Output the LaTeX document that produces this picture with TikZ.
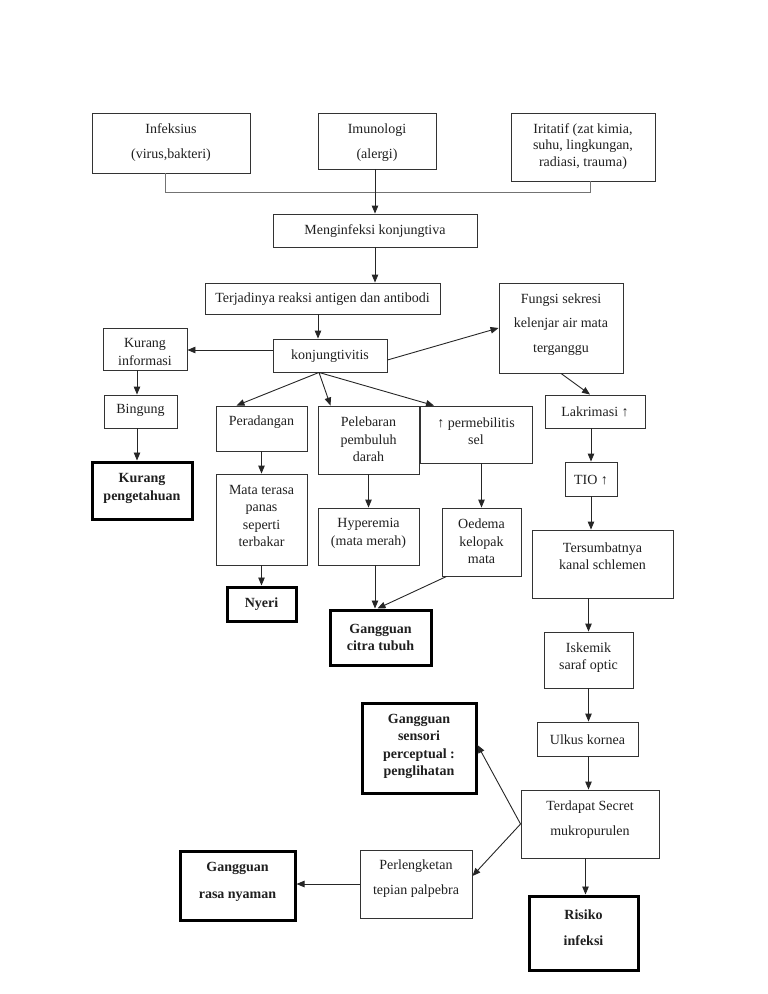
\documentclass[tikz,border=0pt]{standalone}
\usepackage{fontspec}
\setmainfont{Liberation Serif}
\usetikzlibrary{arrows.meta}
\tikzset{
  box/.style={draw=black!80, line width=0.9pt, inner sep=0pt},
  bbox/.style={draw=black, line width=3pt, inner sep=0pt},
  txt/.style={align=center, inner sep=0pt, yshift=-2.5pt, text=black!88, font=\fontsize{14}{17.5}\selectfont},
  arr/.style={draw=black!85, line width=0.9pt, -{Triangle[length=8pt,width=6.5pt]}},
  ln/.style={draw=black!55, line width=0.9pt}
}
\newcommand{\mkbox}[8]{%
  \node[#1, minimum width={#5-#3}, minimum height={#6-#4}] (#2) at ({(#3+#5)/2},{(#4+#6)/2}) {};
  \node[txt] (#2t) at ({(#3+#5)/2},#7) {#8};
}
\begin{document}
\begin{tikzpicture}[x=1pt,y=-1pt]
\useasboundingbox (0,0) rectangle (768,994);
% top row
\mkbox{box}{inf}{92}{113}{250}{173}{140}{Infeksius\\[8pt](virus,bakteri)}
\mkbox{box}{imu}{318}{113}{436}{169}{140}{Imunologi\\[8pt](alergi)}
\mkbox{box}{iri}{511}{113}{655}{181}{144}{Iritatif (zat kimia,\\[-1pt]suhu, lingkungan,\\[-1pt]radiasi, trauma)}
\mkbox{box}{meng}{273}{214}{477}{247}{229}{Menginfeksi konjungtiva}
\mkbox{box}{terj}{205}{283}{440}{314}{297}{Terjadinya reaksi antigen dan antibodi}
\mkbox{box}{konj}{273}{339}{387}{372}{354}{konjungtivitis}
\mkbox{box}{kinfo}{103}{328}{187}{370}{349.5}{Kurang\\informasi}
\mkbox{box}{fung}{499}{283}{623}{373}{322}{Fungsi sekresi\\[7pt]kelenjar air mata\\[7pt]terganggu}
% left column
\mkbox{box}{bing}{104}{395}{177}{428}{408}{Bingung}
\mkbox{bbox}{kpeng}{92}{462}{192}{519}{486}{\bfseries Kurang\\\bfseries pengetahuan}
% middle
\mkbox{box}{per}{216}{406}{307}{451}{420}{Peradangan}
\mkbox{box}{mata}{216}{474}{307}{565}{513.5}{Mata terasa\\panas\\seperti\\terbakar}
\mkbox{bbox}{nyeri}{227}{587}{296}{621}{602}{\bfseries Nyeri}
\mkbox{box}{peleb}{318}{406}{419}{474}{437}{Pelebaran\\pembuluh\\darah}
\mkbox{box}{hyp}{318}{508}{419}{565}{531}{Hyperemia\\(mata merah)}
\mkbox{box}{perm}{420}{406}{532}{463}{428.5}{↑ permebilitis\\sel}
\mkbox{box}{oed}{442}{508}{521}{576}{539}{Oedema\\kelopak\\mata}
\mkbox{bbox}{citra}{330}{610}{431}{665}{635}{\bfseries Gangguan\\\bfseries citra tubuh}
% right column
\mkbox{box}{lakr}{545}{395}{645}{428}{409}{Lakrimasi ↑}
\mkbox{box}{tio}{565}{462}{617}{496}{478}{TIO ↑}
\mkbox{box}{ters}{532}{530}{673}{598}{553.5}{Tersumbatnya\\kanal schlemen}
\mkbox{box}{isk}{544}{632}{633}{688}{655}{Iskemik\\saraf optic}
\mkbox{box}{ulk}{537}{722}{638}{756}{737}{Ulkus kornea}
\mkbox{box}{terd}{521}{790}{659}{858}{817}{Terdapat Secret\\[8pt]mukropurulen}
\mkbox{bbox}{ris}{529}{896}{638}{970}{925}{\bfseries Risiko\\[8pt]\bfseries infeksi}
\mkbox{bbox}{sens}{362}{703}{476}{793}{744}{\bfseries Gangguan\\\bfseries sensori\\\bfseries perceptual :\\\bfseries penglihatan}
\mkbox{box}{perl}{360}{850}{472}{918}{876}{Perlengketan\\[8pt]tepian palpebra}
\mkbox{bbox}{nyam}{180}{851}{295}{920}{879.5}{\bfseries Gangguan\\[9pt]\bfseries rasa nyaman}
% connectors
\coordinate (ja) at (165,192);
\coordinate (jb) at (590,192);
\draw[ln] (inf.south -| ja) -- (ja) -- (jb) -- (iri.south -| jb);
\draw[arr] (imu.south -| meng.north) -- (meng.north);
\draw[arr] (meng.south) -- (meng.south |- terj.north);
\draw[arr] ([xshift=-12pt]konj.north |- terj.south) -- ([xshift=-12pt]konj.north);
\draw[arr] ([yshift=5.5pt]konj.west) -- ([yshift=5.5pt]konj.west -| kinfo.east);
\draw[arr] ([yshift=-4.5pt]konj.east) -- (fung.west);
\draw[arr] (fung.south) -- ([xshift=-5pt]lakr.north);
\draw[arr] (tio.north |- lakr.south) -- (tio.north);
\draw[arr] (tio.south) -- (tio.south |- ters.north);
\draw[arr] (isk.north |- ters.south) -- (isk.north);
\draw[arr] (isk.south) -- (isk.south |- ulk.north);
\draw[arr] (isk.south |- ulk.south) -- (isk.south |- terd.north);
\draw[arr] ([xshift=2pt]ris.north |- terd.south) -- ([xshift=2pt]ris.north);
\draw[arr] (terd.west) -- ([yshift=3pt]sens.east);
\draw[arr] (terd.west) -- ([yshift=8pt]perl.east);
\draw[arr] (perl.west) -- (perl.west -| nyam.east);
% left column
\draw[arr] ([xshift=-8pt]kinfo.south) -- ([xshift=-8pt]kinfo.south |- bing.north);
\draw[arr] ([xshift=-8pt]kinfo.south |- bing.south) -- ([xshift=-8pt]kinfo.south |- kpeng.north);
% middle
\draw[arr] ([xshift=-11pt]konj.south) -- ([xshift=-25pt]per.north);
\draw[arr] ([xshift=-11pt]konj.south) -- ([xshift=-38pt]peleb.north);
\draw[arr] ([xshift=-11pt]konj.south) -- ([xshift=-42pt]perm.north);
\draw[arr] (per.south) -- (mata.north);
\draw[arr] (mata.south) -- (nyeri.north);
\draw[arr] (peleb.south) -- (hyp.north);
\draw[arr] ([xshift=-5.5pt]citra.north |- hyp.south) -- ([xshift=-5.5pt]citra.north);
\draw[arr] (perm.south -| oed.north) -- (oed.north);
\draw[arr] ([xshift=5pt]oed.south west) -- ([xshift=-3pt]citra.north);
\end{tikzpicture}
\end{document}
